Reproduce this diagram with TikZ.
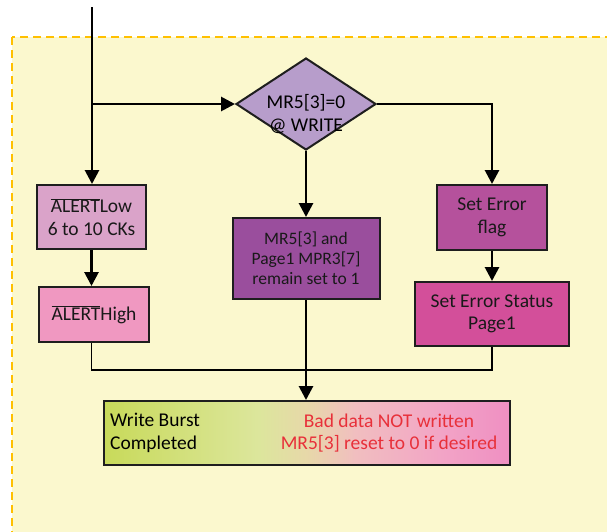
\documentclass[tikz,border=0pt]{standalone}
\usepackage{fontspec}
\setmainfont{Carlito}
\usetikzlibrary{shapes,arrows.meta,positioning,calc}
\definecolor{zonefill}{RGB}{251,248,206}
\definecolor{zoneedge}{RGB}{255,192,0}
\definecolor{boxedge}{RGB}{30,30,30}
\definecolor{chkfill}{RGB}{183,157,203}
\definecolor{lowfill}{RGB}{218,163,201}
\definecolor{highfill}{RGB}{240,152,193}
\definecolor{midfill}{RGB}{154,78,157}
\definecolor{flagfill}{RGB}{181,81,156}
\definecolor{statfill}{RGB}{211,79,154}
\definecolor{errred}{RGB}{232,48,58}
\pgfdeclarehorizontalshading{wbshade}{100bp}{
    color(0bp)=(rgb,255:red,200;green,218;blue,90);
    color(25bp)=(rgb,255:red,200;green,218;blue,90);
    color(44bp)=(rgb,255:red,220;green,230;blue,156);
    color(50bp)=(rgb,255:red,231;green,216;blue,169);
    color(56bp)=(rgb,255:red,241;green,190;blue,192);
    color(67bp)=(rgb,255:red,242;green,163;blue,198);
    color(75bp)=(rgb,255:red,239;green,143;blue,194);
    color(100bp)=(rgb,255:red,239;green,143;blue,194)}

\begin{document}
\begin{tikzpicture}[x=1pt, y=-1pt, font=\fontsize{19.5}{22.5}\selectfont,
    box/.style={draw=boxedge, line width=2pt, align=center, inner sep=0pt, text=black!90},
    decision/.style={diamond, draw=boxedge, line width=2pt, fill=chkfill, inner sep=0pt,
        minimum width=140pt, minimum height=92pt},
    flow/.style={line width=2.8pt, -{Triangle[length=14pt,width=14pt]}},
    mergeline/.style={line width=1.9pt}]
    \useasboundingbox (0,0) rectangle (607,531);

    % dashed zone
    \draw[zoneedge, fill=zonefill, line width=2pt, dash pattern=on 8pt off 5pt]
        (12,37) rectangle (625,550);

    \coordinate (in) at (92,7);
    \node[decision] (chk) at (306,104) {};
    \node[align=center, inner sep=0pt] (chktxt) at (306,114) {MR5[3]=0\\@ WRITE};

    \node[box, fill=lowfill, minimum width=109pt, minimum height=64pt] (low) at (91.5,217)
        {$\overline{\mbox{ALERT}}$Low\\6 to 10 CKs};
    \node[box, fill=highfill, minimum width=110pt, minimum height=55pt] (high) at (94,314.5)
        {$\overline{\mbox{ALERT}}$High};
    \node[box, fill=midfill, minimum width=147pt, minimum height=81pt,
        font=\fontsize{17.5}{19.8}\selectfont] (mid) at (306,258.5)
        {MR5[3] and\\Page1 MPR3[7]\\remain set to 1};
    \node[box, fill=flagfill, minimum width=110pt, minimum height=65pt] (flag) at (492,217.5)
        {Set Error\\flag};
    \node[box, fill=statfill, minimum width=154pt, minimum height=64pt] (stat) at (492,314)
        {Set Error Status\\Page1};

    \node[box, shading=wbshade, minimum width=406pt, minimum height=64pt] (wb) at (307,433) {};
    \node[align=left, anchor=west, inner sep=0pt] (wbtxt) at ($(wb.west)+(7,0)$)
        {Write Burst\\Completed};
    \node[align=center, inner sep=0pt, text=errred] (wbnote) at (389,433)
        {Bad data NOT written\\MR5[3] reset to 0 if desired};

    \coordinate (bus) at (0,370);

    \draw[flow] (in) -- (in |- low.north);
    \draw[flow] (in |- chk.west) -- (chk.west);
    \draw[flow] (chk.east) -| (flag.north);
    \draw[flow] (chk.south) -- (mid.north);
    \draw[flow] (low.south) -- (low.south |- high.north);
    \draw[flow] (flag.south) -- (stat.north);
    \draw[mergeline] (low.south |- high.south) -- (low.south |- bus) -- (stat.south |- bus) -- (stat.south);
    \draw[flow] (mid.south) -- (mid.south |- wb.north);
\end{tikzpicture}
\end{document}
